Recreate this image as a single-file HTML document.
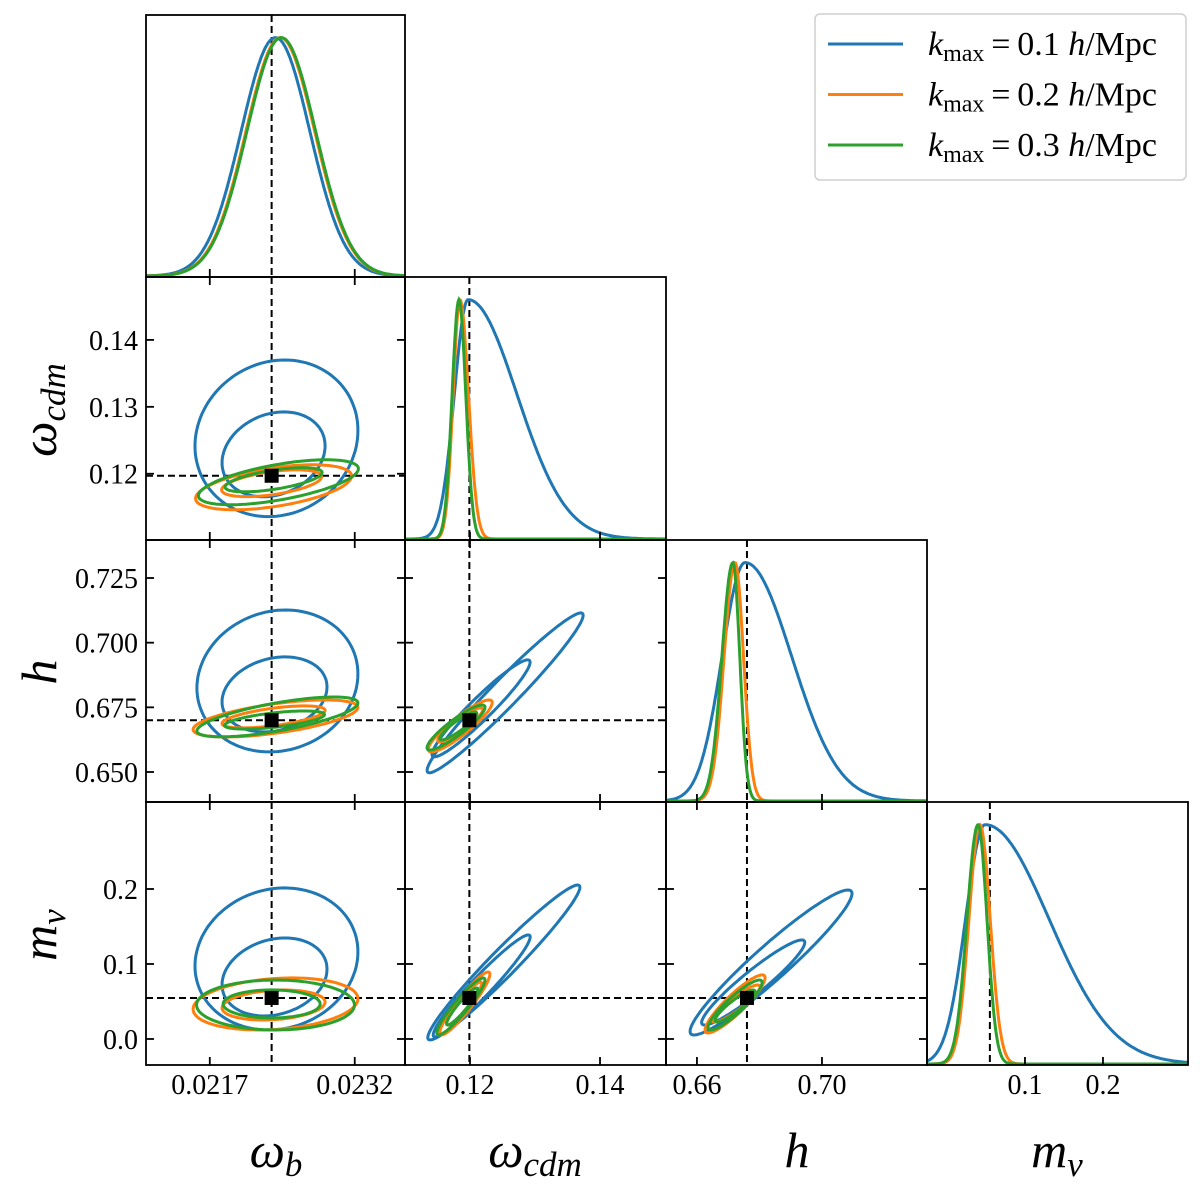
<!DOCTYPE html>
<html><head><meta charset="utf-8">
<style>
html,body{margin:0;padding:0;background:#fff;}
svg{display:block;font-family:"Liberation Serif","DejaVu Serif",serif;}
</style></head>
<body>
<svg id="chart" width="1200" height="1186" viewBox="0 0 1200 1186" xmlns="http://www.w3.org/2000/svg"></svg>
<script>
// ---- data ----
const params = ['omega_b','omega_cdm','h','m_nu'];
const seriesNames = ['kmax-0.1','kmax-0.2','kmax-0.3'];
const seriesColors = ['#1f77b4','#ff7f0e','#2ca02c'];
// axis ranges (data units)
const xRanges = [[0.02104,0.02372],[0.11,0.15015],[0.6501,0.7336],[-0.0256,0.309]];
const yRanges = [null,[0.1101,0.1494],[0.6384,0.7397],[-0.0347,0.316]];
const xTicks = [[0.0217,0.0232],[0.12,0.14],[0.66,0.70],[0.1,0.2]];
const xTickLabels = [['0.0217','0.0232'],['0.12','0.14'],['0.66','0.70'],['0.1','0.2']];
const yTicks = [null,[0.12,0.13,0.14],[0.65,0.675,0.7,0.725],[0.0,0.1,0.2]];
const yTickLabels = [null,['0.12','0.13','0.14'],['0.650','0.675','0.700','0.725'],['0.0','0.1','0.2']];
const truthX = [0.02234,0.1199,0.676,0.055];
const truthY = [null,0.1197,0.670,0.0547];
// 1D marginals: split-normal peak, left sigma, right sigma per series
const margPeak = [[0.02238,0.02243,0.02244],[0.1197,0.11846,0.1183],[0.6754,0.6722,0.6715],[0.0488,0.0423,0.0398]];
const margSigL = [[0.000356,0.000356,0.000356],[0.0021,0.00105,0.00105],[0.00736,0.0035,0.0035],[0.025,0.0141,0.0141]];
const margSigR = [[0.000356,0.000356,0.000356],[0.0075,0.0013,0.00105],[0.0149,0.0027,0.0022],[0.082,0.0131,0.0115]];
// 2D contours: per series [outer, inner], each [cx, cy, halfX, halfY, rho]
const contours10 = [
 [[0.02239,0.1253,0.000843,0.0117,0.1],[0.02236,0.1229,0.000533,0.00634,0.2]],
 [[0.02236,0.11798,0.000807,0.00336,0.5],[0.02234,0.11858,0.000517,0.002,0.5]],
 [[0.02241,0.11873,0.000828,0.00336,0.6],[0.02236,0.1191,0.000502,0.0018,0.6]]];
const contours20 = [
 [[0.0224,0.6852,0.000833,0.02744,0.1],[0.02237,0.68,0.000543,0.0145,0.2]],
 [[0.02238,0.6707,0.000853,0.00715,0.6],[0.02236,0.6713,0.000533,0.00425,0.6]],
 [[0.0224,0.6713,0.000833,0.0077,0.7],[0.02237,0.6701,0.000517,0.0035,0.6]]];
const contours21 = [
 [[0.1254,0.6806,0.012,0.0309,0.97],[0.1217,0.6746,0.00754,0.01875,0.95]],
 [[0.1185,0.6678,0.00492,0.01005,0.9],[0.1185,0.6682,0.00346,0.00657,0.9]],
 [[0.11785,0.6672,0.00446,0.0087,0.9],[0.1182,0.6678,0.00285,0.0054,0.9]]];
const contours30 = [
 [[0.02239,0.1067,0.000843,0.0947,0.1],[0.02237,0.0827,0.000543,0.052,0.2]],
 [[0.02238,0.0467,0.000853,0.0347,0.2],[0.02236,0.0453,0.000533,0.02,0.2]],
 [[0.02238,0.0453,0.000817,0.0333,0.0],[0.02234,0.0467,0.000502,0.0187,0.0]]];
const contours31 = [
 [[0.1252,0.102,0.0117,0.1033,0.97],[0.1218,0.0707,0.00746,0.068,0.96]],
 [[0.1192,0.0473,0.00385,0.042,0.93],[0.1191,0.0473,0.0027,0.0287,0.93]],
 [[0.1186,0.0433,0.0037,0.038,0.93],[0.1188,0.0433,0.0024,0.0247,0.93]]];
const contours32 = [
 [[0.6837,0.102,0.0259,0.0967,0.95],[0.678,0.0753,0.0165,0.0567,0.94]],
 [[0.6722,0.0467,0.0096,0.0387,0.9],[0.6725,0.0473,0.0077,0.0247,0.9]],
 [[0.6722,0.0453,0.00864,0.0333,0.9],[0.6722,0.044,0.0064,0.0213,0.9]]];

// ---- layout ----
const colE = [146,405,666,927,1188];
const rowE = [15,277,540,802,1065];
const NS='http://www.w3.org/2000/svg';
const svg=document.getElementById('chart');
function mk(tag,attrs,parent){const e=document.createElementNS(NS,tag);for(const k in attrs)e.setAttribute(k,attrs[k]);(parent||svg).appendChild(e);return e;}
function sx(j,v){const r=xRanges[j];return colE[j]+(v-r[0])/(r[1]-r[0])*(colE[j+1]-colE[j]);}
function sy(i,v){const r=yRanges[i];return rowE[i+1]-(v-r[0])/(r[1]-r[0])*(rowE[i+1]-rowE[i]);}

const contourMap={'1-0':contours10,'2-0':contours20,'2-1':contours21,'3-0':contours30,'3-1':contours31,'3-2':contours32};
const LW=3;

for(let i=0;i<4;i++){
 for(let j=0;j<=i;j++){
  const g=mk('g',{});
  
  
  const x0=colE[j],x1=colE[j+1],y0=rowE[i],y1=rowE[i+1];
  const cid='clip'+i+j;
  const cp=mk('clipPath',{id:cid},g);mk('rect',{x:x0,y:y0,width:x1-x0,height:y1-y0},cp);
  const plot=mk('g',{'clip-path':'url(#'+cid+')'},g);
  const vl=mk('line',{x1:sx(j,truthX[j]),x2:sx(j,truthX[j]),y1:y0,y2:y1,stroke:'#000','stroke-width':2,'stroke-dasharray':'7,4'},plot);
  
  
  if(i!==j){
   const hl=mk('line',{x1:x0,x2:x1,y1:sy(i,truthY[i]),y2:sy(i,truthY[i]),stroke:'#000','stroke-width':2,'stroke-dasharray':'7,4'},plot);
   
   
   const cs=contourMap[i+'-'+j];
   for(let s=0;s<3;s++){
    for(let c=0;c<2;c++){
     const p=cs[s][c];let d='';
     for(let k=0;k<=120;k++){const t=k/120*2*Math.PI;
      const vx=p[0]+p[2]*Math.cos(t);
      const vy=p[1]+p[3]*(p[4]*Math.cos(t)+Math.sqrt(1-p[4]*p[4])*Math.sin(t));
      d+=(k?'L':'M')+sx(j,vx).toFixed(1)+','+sy(i,vy).toFixed(1);}
     const path=mk('path',{d:d+'Z',fill:'none',stroke:seriesColors[s],'stroke-width':LW},plot);
     
     
    }
   }
   const sq=mk('rect',{x:sx(j,truthX[j])-7,y:sy(i,truthY[i])-7,width:14,height:14,fill:'#000'},plot);
   
   
  } else {
   const h=y1-y0,peakH=0.91*h;
   for(let s=0;s<3;s++){
    let d='';const r=xRanges[j];
    for(let k=0;k<=300;k++){const v=r[0]+(r[1]-r[0])*k/300;
     const sg=v<margPeak[j][s]?margSigL[j][s]:margSigR[j][s];
     const z=(v-margPeak[j][s])/sg;const f=Math.exp(-0.5*z*z);
     d+=(k?'L':'M')+sx(j,v).toFixed(1)+','+(y1-1-f*peakH).toFixed(1);}
    const path=mk('path',{d:d,fill:'none',stroke:seriesColors[s],'stroke-width':LW},plot);
    
    
   }
  }
  mk('rect',{x:x0,y:y0,width:x1-x0,height:y1-y0,fill:'none',stroke:'#000','stroke-width':1.8},g);
  xTicks[j].forEach((v,k)=>{const X=sx(j,v);
   mk('line',{x1:X,x2:X,y1:y1,y2:y1-8,stroke:'#000','stroke-width':1.8},g);
   if(i!==j) mk('line',{x1:X,x2:X,y1:y0,y2:y0+8,stroke:'#000','stroke-width':1.8},g);
   if(i===3){const t=mk('text',{x:X,y:1094,'text-anchor':'middle','font-size':28},g);t.textContent=xTickLabels[j][k];
    
    }
  });
  if(i!==j){
   yTicks[i].forEach((v,k)=>{const Y=sy(i,v);
    mk('line',{x1:x0,x2:x0+8,y1:Y,y2:Y,stroke:'#000','stroke-width':1.8},g);
    mk('line',{x1:x1,x2:x1-8,y1:Y,y2:Y,stroke:'#000','stroke-width':1.8},g);
    if(j===0){const t=mk('text',{x:x0-8,y:Y+10,'text-anchor':'end','font-size':28},g);t.textContent=yTickLabels[i][k];
     
     }
   });
  }
 }
}
// axis labels
const xLab=[['ω','b'],['ω','cdm'],['h',''],['m','ν']];
const xLabC=[276,535,797,1057];
xLab.forEach((l,k)=>{
 const t=mk('text',{x:xLabC[k],y:1167,'text-anchor':'middle','font-size':50,'font-style':'italic'});
 
 
 const a=mk('tspan',{},t);a.textContent=l[0];
 if(l[1]){const b=mk('tspan',{'font-size':35,dy:9},t);b.textContent=l[1];}
});
const yLabC=[410,672,935];
[['ω','cdm'],['h',''],['m','ν']].forEach((l,k)=>{
 const t=mk('text',{x:0,y:0,'text-anchor':'middle','font-size':50,'font-style':'italic',transform:'translate(56,'+yLabC[k]+') rotate(-90)'});
 
 
 const a=mk('tspan',{},t);a.textContent=l[0];
 if(l[1]){const b=mk('tspan',{'font-size':35,dy:9},t);b.textContent=l[1];}
});
// legend
const lg=mk('g',{});


mk('rect',{x:815,y:14,width:371,height:166,rx:5,fill:'#fff',stroke:'#cfcfcf','stroke-width':1.5},lg);
['0.1','0.2','0.3'].forEach((v,k)=>{
 const Y=44+k*50.5;
 const e=mk('g',{},lg);
 
 
 mk('line',{x1:828,x2:903,y1:Y,y2:Y,stroke:seriesColors[k],'stroke-width':LW},e);
 const t=mk('text',{x:928,y:Y+11,'font-size':34},e);
 const a=mk('tspan',{'font-style':'italic'},t);a.textContent='k';
 const b=mk('tspan',{'font-size':24,dy:6},t);b.textContent='max';
 const c=mk('tspan',{dy:-6},t);c.textContent='\u2009=\u20090.'+v.slice(2)+' ';
 const d=mk('tspan',{'font-style':'italic'},t);d.textContent='h';
 const f=mk('tspan',{},t);f.textContent='/Mpc';
});
</script>
</body></html>
